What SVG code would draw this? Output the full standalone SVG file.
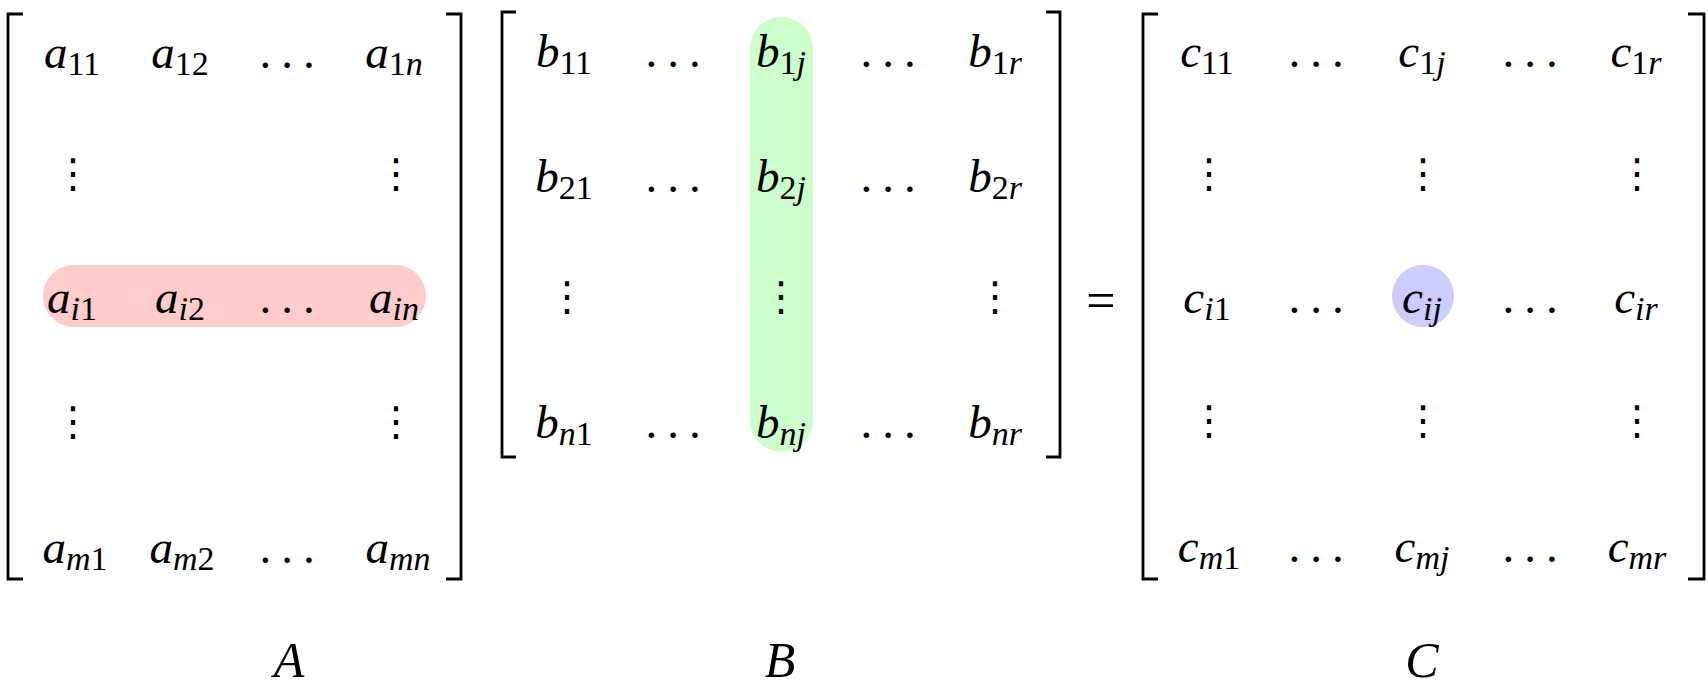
<svg xmlns="http://www.w3.org/2000/svg" width="1708" height="688" viewBox="0 0 1708 688">
<style>
.bracket{fill:none;stroke:#000;stroke-width:2.8;stroke-linejoin:miter;stroke-linecap:butt}
</style>
<rect width="1708" height="688" fill="#fff"/>

<g id="highlights">
<rect x="43" y="265" width="383" height="62" rx="31" ry="31" fill="#ffcccc"/>
<rect x="750" y="17" width="63" height="435" rx="31.5" ry="31.5" fill="#ccffcc"/>
<circle cx="1423" cy="296" r="31" fill="#ccccff"/>
</g>

<g font-family="Liberation Serif" font-size="47" font-style="italic" text-anchor="middle" fill="#000">
<g id="matrixA">
<path class="bracket" d="M23,14 H8 V579 H23"/>
<path class="bracket" d="M446,14 H461 V579 H446"/>
<text x="72" y="68">a<tspan font-size="34" font-style="normal" dy="7">11</tspan></text>
<text x="180" y="68">a<tspan font-size="34" font-style="normal" dy="7">12</tspan></text>
<text x="292" y="68" font-style="normal" letter-spacing="10">...</text>
<text x="394" y="68">a<tspan font-size="34" dy="7"><tspan font-style="normal">1</tspan>n</tspan></text>
<text x="73" y="187" font-family="DejaVu Sans" font-size="40" font-style="normal">⋮</text>
<text x="396" y="187" font-family="DejaVu Sans" font-size="40" font-style="normal">⋮</text>
<text x="72" y="313">a<tspan font-size="34" dy="7">i<tspan font-style="normal">1</tspan></tspan></text>
<text x="180" y="313">a<tspan font-size="34" dy="7">i<tspan font-style="normal">2</tspan></tspan></text>
<text x="292" y="313" font-style="normal" letter-spacing="10">...</text>
<text x="394" y="313">a<tspan font-size="34" dy="7">in</tspan></text>
<text x="73" y="435" font-family="DejaVu Sans" font-size="40" font-style="normal">⋮</text>
<text x="396" y="435" font-family="DejaVu Sans" font-size="40" font-style="normal">⋮</text>
<text x="75" y="563">a<tspan font-size="34" dy="7">m<tspan font-style="normal">1</tspan></tspan></text>
<text x="182" y="563">a<tspan font-size="34" dy="7">m<tspan font-style="normal">2</tspan></tspan></text>
<text x="292" y="563" font-style="normal" letter-spacing="10">...</text>
<text x="398" y="563">a<tspan font-size="34" dy="7">mn</tspan></text>
</g>

<g id="matrixB">
<path class="bracket" d="M516,12 H502 V457 H516"/>
<path class="bracket" d="M1046,12 H1060 V457 H1046"/>
<text x="564" y="67">b<tspan font-size="34" font-style="normal" dy="7">11</tspan></text>
<text x="678" y="67" font-style="normal" letter-spacing="10">...</text>
<text x="781" y="67">b<tspan font-size="34" dy="7"><tspan font-style="normal">1</tspan>j</tspan></text>
<text x="893" y="67" font-style="normal" letter-spacing="10">...</text>
<text x="995" y="67">b<tspan font-size="34" dy="7"><tspan font-style="normal">1</tspan>r</tspan></text>
<text x="564" y="192">b<tspan font-size="34" font-style="normal" dy="7">21</tspan></text>
<text x="678" y="192" font-style="normal" letter-spacing="10">...</text>
<text x="781" y="192">b<tspan font-size="34" dy="7"><tspan font-style="normal">2</tspan>j</tspan></text>
<text x="893" y="192" font-style="normal" letter-spacing="10">...</text>
<text x="995" y="192">b<tspan font-size="34" dy="7"><tspan font-style="normal">2</tspan>r</tspan></text>
<text x="567" y="310" font-family="DejaVu Sans" font-size="40" font-style="normal">⋮</text>
<text x="781" y="310" font-family="DejaVu Sans" font-size="40" font-style="normal">⋮</text>
<text x="995" y="310" font-family="DejaVu Sans" font-size="40" font-style="normal">⋮</text>
<text x="564" y="438">b<tspan font-size="34" dy="7">n<tspan font-style="normal">1</tspan></tspan></text>
<text x="678" y="438" font-style="normal" letter-spacing="10">...</text>
<text x="781" y="438">b<tspan font-size="34" dy="7">nj</tspan></text>
<text x="893" y="438" font-style="normal" letter-spacing="10">...</text>
<text x="995" y="438">b<tspan font-size="34" dy="7">nr</tspan></text>
</g>

<g id="equals">
<text x="1101" y="318" font-style="normal" font-size="52">=</text>
</g>

<g id="matrixC">
<path class="bracket" d="M1158,14 H1143 V579 H1158"/>
<path class="bracket" d="M1688,14 H1704 V579 H1688"/>
<text x="1207" y="67">c<tspan font-size="34" font-style="normal" dy="7">11</tspan></text>
<text x="1321" y="67" font-style="normal" letter-spacing="10">...</text>
<text x="1422" y="67">c<tspan font-size="34" dy="7"><tspan font-style="normal">1</tspan>j</tspan></text>
<text x="1535" y="67" font-style="normal" letter-spacing="10">...</text>
<text x="1636" y="67">c<tspan font-size="34" dy="7"><tspan font-style="normal">1</tspan>r</tspan></text>
<text x="1209" y="187" font-family="DejaVu Sans" font-size="40" font-style="normal">⋮</text>
<text x="1423" y="187" font-family="DejaVu Sans" font-size="40" font-style="normal">⋮</text>
<text x="1637" y="187" font-family="DejaVu Sans" font-size="40" font-style="normal">⋮</text>
<text x="1207" y="313">c<tspan font-size="34" dy="7">i<tspan font-style="normal">1</tspan></tspan></text>
<text x="1321" y="313" font-style="normal" letter-spacing="10">...</text>
<text x="1422" y="313">c<tspan font-size="34" dy="7">ij</tspan></text>
<text x="1535" y="313" font-style="normal" letter-spacing="10">...</text>
<text x="1636" y="313">c<tspan font-size="34" dy="7">ir</tspan></text>
<text x="1209" y="434" font-family="DejaVu Sans" font-size="40" font-style="normal">⋮</text>
<text x="1423" y="434" font-family="DejaVu Sans" font-size="40" font-style="normal">⋮</text>
<text x="1637" y="434" font-family="DejaVu Sans" font-size="40" font-style="normal">⋮</text>
<text x="1209" y="562">c<tspan font-size="34" dy="7">m<tspan font-style="normal">1</tspan></tspan></text>
<text x="1321" y="562" font-style="normal" letter-spacing="10">...</text>
<text x="1422" y="562">c<tspan font-size="34" dy="7">mj</tspan></text>
<text x="1535" y="562" font-style="normal" letter-spacing="10">...</text>
<text x="1637" y="562">c<tspan font-size="34" dy="7">mr</tspan></text>
</g>

<g id="labels" font-size="50">
<text x="289" y="677">A</text>
<text x="780" y="677">B</text>
<text x="1422" y="677">C</text>
</g>
</g>
</svg>
